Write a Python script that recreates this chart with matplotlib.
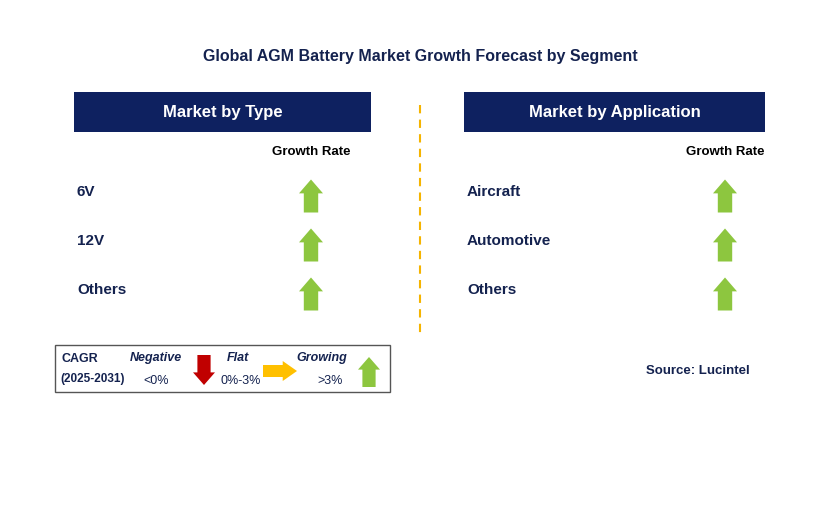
import matplotlib.pyplot as plt
from matplotlib.patches import Rectangle, Polygon

plt.rcParams["font.family"] = "Liberation Sans"

title = "Global AGM Battery Market Growth Forecast by Segment"
type_labels = ["6V", "12V", "Others"]
type_trend = ["up", "up", "up"]
app_labels = ["Aircraft", "Automotive", "Others"]
app_trend = ["up", "up", "up"]

NAVY = "#0e2160"
TEXT = "#14224f"
GREEN = "#8dc63f"
RED = "#c00000"
ORANGE = "#ffc000"


def arrow(ax, cx, cy, direction, color, length=32, width=24):
    # arrow polygon centred at (cx, cy); y axis points down
    h = length / 2
    sw = width * 0.3
    hw = width / 2
    hh = length * 0.42
    pts = [(0, -h), (hw, -h + hh), (sw, -h + hh), (sw, h), (-sw, h), (-sw, -h + hh), (-hw, -h + hh)]
    if direction == "down":
        pts = [(x, -y) for x, y in pts]
    elif direction == "right":
        pts = [(-y, x) for x, y in pts]
    ax.add_patch(Polygon([(cx + x, cy + y) for x, y in pts], closed=True, color=color, lw=0))


fig = plt.figure(figsize=(8.29, 5.16), dpi=100)
ax = fig.add_axes([0, 0, 1, 1])
ax.set_xlim(0, 829)
ax.set_ylim(516, 0)
ax.axis("off")

ax.text(420, 57, title, ha="center", va="center", fontsize=11.5, fontweight="bold", color=TEXT)

panels = [(74, 371, 311, "Market by Type", type_labels, type_trend),
          (464, 765, 725, "Market by Application", app_labels, app_trend)]
rows_y = [192, 241, 290]
for x0, x1, ax_x, head, labels, trend in panels:
    ax.add_patch(Rectangle((x0, 92), x1 - x0, 40, color=NAVY, lw=0))
    ax.text((x0 + x1) / 2, 112, head, ha="center", va="center", fontsize=12,
            fontweight="bold", color="white")
    ax.text(ax_x, 152, "Growth Rate", ha="center", va="center", fontsize=9.5, fontweight="bold", color="black")
    for lab, tr, y in zip(labels, trend, rows_y):
        ax.text(x0 + 3, y, lab, ha="left", va="center", fontsize=11, fontweight="bold", color=TEXT)
        arrow(ax, ax_x, y + 4, tr, GREEN, length=33, width=24)

ax.plot([420, 420], [105, 333], ls=(0, (4, 3)), color="#f5b400", lw=1.5)

# legend
ax.add_patch(Rectangle((55, 345), 335, 47, fill=False, ec="#555555", lw=1))
ax.text(62, 359, "CAGR", fontsize=9, fontweight="bold", color=TEXT, va="center")
ax.text(60, 379, "(2025-2031)", fontsize=8.5, fontweight="bold", color=TEXT, va="center")
ax.text(156, 358, "Negative", fontsize=9, fontweight="bold", style="italic", color=TEXT, ha="center", va="center")
ax.text(156, 381, "<0%", fontsize=9, color=TEXT, ha="center", va="center")
arrow(ax, 204, 370, "down", RED, length=30, width=22)
ax.text(238, 358, "Flat", fontsize=9, fontweight="bold", style="italic", color=TEXT, ha="center", va="center")
ax.text(241, 381, "0%-3%", fontsize=9, color=TEXT, ha="center", va="center")
arrow(ax, 280, 371, "right", ORANGE, length=34, width=20)
ax.text(322, 358, "Growing", fontsize=9, fontweight="bold", style="italic", color=TEXT, ha="center", va="center")
ax.text(330, 381, ">3%", fontsize=9, color=TEXT, ha="center", va="center")
arrow(ax, 369, 372, "up", GREEN, length=30, width=22)

ax.text(750, 371, "Source: Lucintel", ha="right", va="center", fontsize=9.5, fontweight="bold", color=TEXT)

fig.savefig("out.png", dpi=100)
